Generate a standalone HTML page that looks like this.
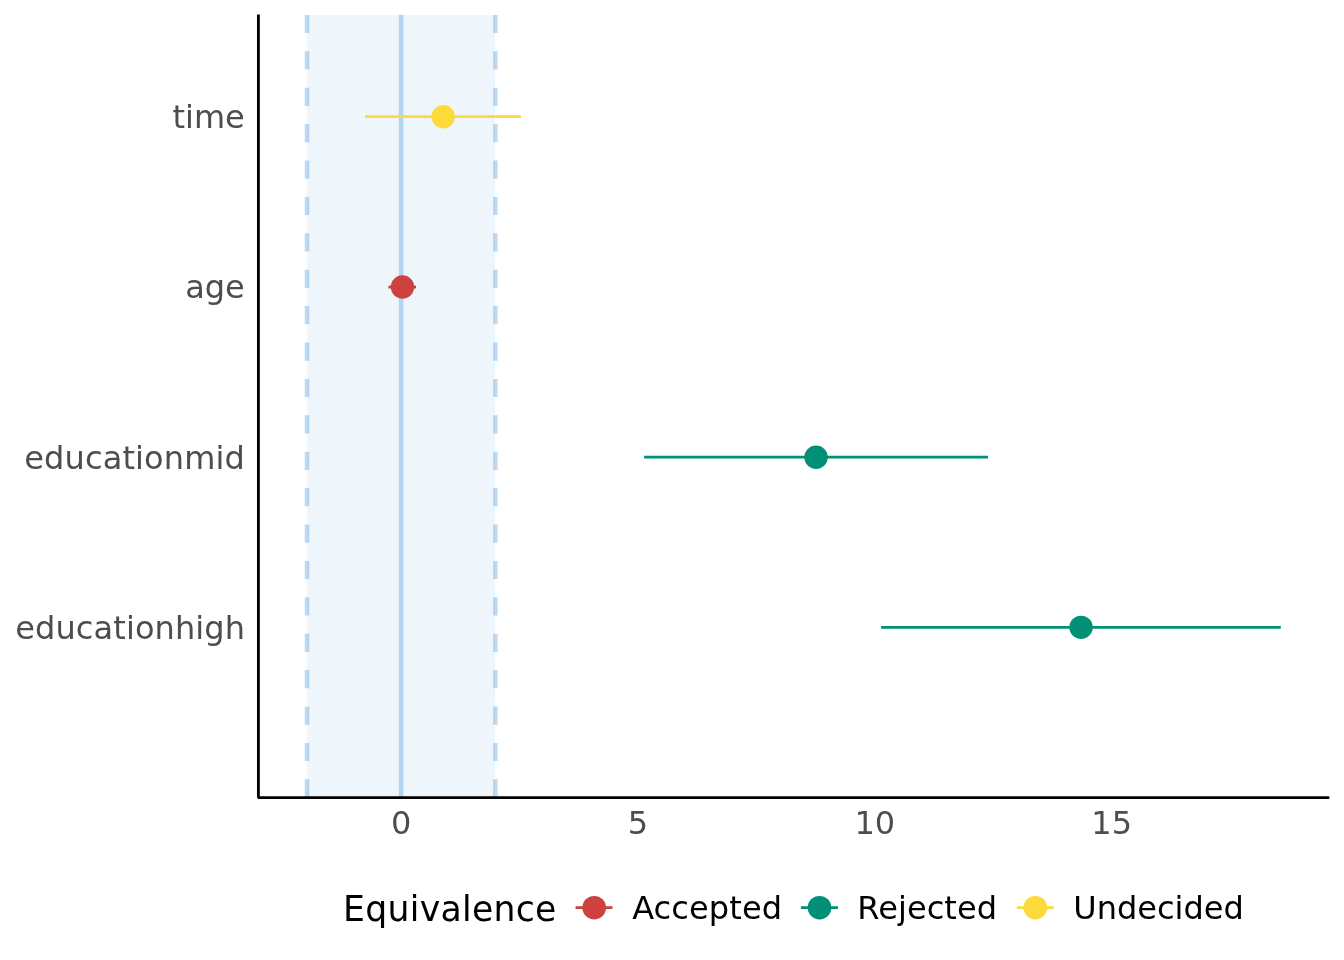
<!DOCTYPE html>
<html>
<head>
<meta charset="utf-8">
<title>Equivalence plot</title>
<style>
html,body{margin:0;padding:0;background:#fff;}
body{width:1344px;height:960px;overflow:hidden;}
svg{display:block;will-change:transform;}
text{font-family:"DejaVu Sans","Liberation Sans",sans-serif;}
.ax{fill:#4d4d4d;font-size:32px;}
.lg{fill:#000;font-size:32px;}
.lt{fill:#000;font-size:34.667px;}
</style>
</head>
<body>
<svg width="1344" height="960" viewBox="0 0 1344 960">
  <rect x="0" y="0" width="1344" height="960" fill="#ffffff"/>
  <!-- ROPE region -->
  <rect x="307" y="15" width="188" height="782.5" fill="#0171d3" fill-opacity="0.0667"/>
  <!-- ROPE dashed boundaries -->
  <path d="M307.0 797.5V14.8M495.4 797.5V14.8" stroke="#0171d3" stroke-opacity="0.25" stroke-width="4.55" stroke-dasharray="18.2 18.2" fill="none"/>
  <!-- zero line -->
  <path d="M401.1 797.5V14.8" stroke="#0171d3" stroke-opacity="0.25" stroke-width="4.55" fill="none"/>

  <!-- pointranges -->
  <g stroke-width="2.84" fill="none">
    <path d="M365.0 116.7H521.1" stroke="#fcda3b"/>
    <path d="M388.4 287.05H416.0" stroke="#cd423f"/>
    <path d="M644.1 457.2H988.0" stroke="#018f77"/>
    <path d="M881.1 627.35H1280.8" stroke="#018f77"/>
  </g>
  <circle cx="443.2" cy="116.75" r="11.7" fill="#fcda3b"/>
  <circle cx="402.5" cy="287.05" r="11.7" fill="#cd423f"/>
  <circle cx="816.05" cy="457.2" r="11.7" fill="#018f77"/>
  <circle cx="1081.05" cy="627.35" r="11.7" fill="#018f77"/>

  <!-- axes -->
  <path d="M258.4 14.5V797.8M257.8 797.6H1329.4" stroke="#000" stroke-width="2.84" fill="none"/>

  <!-- y labels -->
  <text class="ax" x="244.8" y="128" text-anchor="end">time</text>
  <text class="ax" x="244.8" y="298" text-anchor="end">age</text>
  <text class="ax" x="24.18" y="469" textLength="220.73" lengthAdjust="spacing">educationmid</text>
  <text class="ax" x="15.27" y="639" textLength="229.73" lengthAdjust="spacing">educationhigh</text>

  <!-- x labels -->
  <text class="ax" x="401.1" y="833.5" text-anchor="middle">0</text>
  <text class="ax" x="637.95" y="833.5" text-anchor="middle">5</text>
  <text class="ax" x="874.8" y="833.5" text-anchor="middle">10</text>
  <text class="ax" x="1111.65" y="833.5" text-anchor="middle">15</text>

  <!-- legend -->
  <text class="lt" x="343.0" y="920.5" textLength="213.43" lengthAdjust="spacing">Equivalence</text>
  <g stroke-width="2.84" fill="none">
    <path d="M575.6 907.6H612.5" stroke="#cd423f"/>
    <path d="M800.9 907.6H837.9" stroke="#018f77"/>
    <path d="M1016.9 907.6H1053.8" stroke="#fcda3b"/>
  </g>
  <circle cx="594.2" cy="907.7" r="11.8" fill="#cd423f"/>
  <circle cx="819.5" cy="907.7" r="11.8" fill="#018f77"/>
  <circle cx="1035.3" cy="907.7" r="11.8" fill="#fcda3b"/>
  <text class="lg" x="632.15" y="918.7" textLength="149.96" lengthAdjust="spacing">Accepted</text>
  <text class="lg" x="857.25" y="918.7" textLength="139.85" lengthAdjust="spacing">Rejected</text>
  <text class="lg" x="1073.3" y="918.7">Undecided</text>
</svg>
</body>
</html>
